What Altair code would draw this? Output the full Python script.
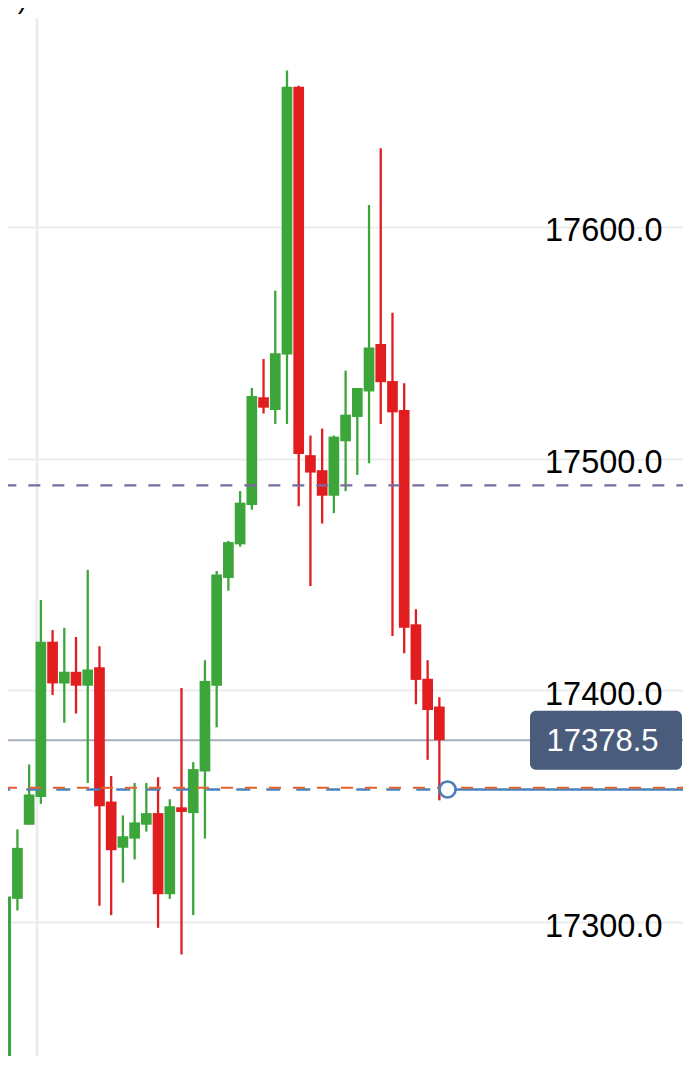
import altair as alt
import pandas as pd

# ---- data ----
idx = list(range(38))
opens = [17230, 17310, 17342, 17354, 17421, 17403, 17408, 17402, 17410, 17352,
         17332, 17336, 17342, 17347, 17312, 17349.5, 17347, 17365, 17402, 17448.5,
         17463, 17480, 17526.5, 17521, 17545, 17660.5, 17501.5, 17495, 17484, 17507.5,
         17518, 17529, 17549.5, 17533.5, 17521, 17428.5, 17405, 17393]
highs = [17317, 17340, 17368, 17439, 17426, 17427, 17423, 17452, 17419, 17363,
         17346, 17360, 17360, 17362.5, 17353, 17401, 17369, 17413, 17451.5, 17464.5,
         17486, 17530.5, 17543, 17572.5, 17667.5, 17661, 17510, 17513, 17510, 17538,
         17530.5, 17609.5, 17634, 17563, 17532.5, 17435, 17413, 17397]
lows = [17226, 17305, 17342, 17351, 17398, 17386, 17390, 17360, 17307, 17303,
        17317, 17327, 17339, 17297.5, 17310, 17286, 17303, 17336, 17384, 17443,
        17462, 17478, 17519.5, 17515, 17515, 17479.5, 17445, 17472, 17476.5, 17486,
        17493, 17498, 17515, 17423.5, 17416, 17394, 17370, 17352.5]
closes = [17311, 17332, 17355, 17421, 17403, 17408, 17402, 17409, 17350, 17331,
          17337, 17343, 17347, 17312, 17350, 17347.5, 17366, 17404, 17450, 17464,
          17481, 17527, 17522, 17545.5, 17660.5, 17502, 17494, 17484, 17509.5, 17519,
          17530.5, 17548, 17533, 17520, 17427, 17404.5, 17391.5, 17378.5]

y_ticks = [17300, 17400, 17500, 17600, 17700]
last_price = 17378.5
last_label = "17378.5"
purple_level = 17488.5
orange_level = 17358.0
blue_level = 17357.2
marker_index = 37.7
time_tick_index = 2.67
x_domain = [-0.486, 58.47]
y_domain = [17236.98, 17697.98]

df = pd.DataFrame({"i": idx, "open": opens, "high": highs, "low": lows, "close": closes})
df["dir"] = ["up" if c >= o else "down" for o, c in zip(opens, closes)]

xs = alt.Scale(domain=x_domain, nice=False, zero=False, padding=0)
ys = alt.Scale(domain=y_domain, nice=False, zero=False, padding=0)
color = alt.Color("dir:N", scale=alt.Scale(domain=["up", "down"], range=["#3da63b", "#e11d1f"]), legend=None)
FONT = "Liberation Sans"

yaxis = alt.Axis(orient="right", values=y_ticks, format=".1f", title=None,
                 labelFontSize=32.5, labelColor="#000000", labelFont=FONT,
                 labelAlign="right", labelBaseline="middle", labelPadding=-29,
                 labelOffset=4, labelOverlap=False, labelFlush=False,
                 domain=False, ticks=False, grid=True, gridColor="#ececec", gridWidth=2)


def Y(field):
    return alt.Y(field, scale=ys, axis=yaxis)


def X(field):
    return alt.X(field, scale=xs, axis=None)


# vertical time gridline
vgrid = alt.Chart(pd.DataFrame({"t": [time_tick_index]})).mark_rule(
    color="#ececec", strokeWidth=2.7
).encode(x=X("t:Q"), y=alt.value(18), y2=alt.value(1068))

# gridline / axis carrier layer
gridlayer = alt.Chart(pd.DataFrame({"v": y_ticks})).mark_point(opacity=0).encode(y=Y("v:Q"))

price_line = alt.Chart(pd.DataFrame({"p": [last_price]})).mark_rule(
    color="#a6aebc", strokeWidth=2
).encode(y=Y("p:Q"))

wicks = alt.Chart(df).mark_rule(strokeWidth=2.3).encode(
    x=X("i:Q"), y=Y("low:Q"), y2="high:Q", color=color,
)
bodies = alt.Chart(df).mark_bar(size=10.7).encode(
    x=X("i:Q"), y=Y("open:Q"), y2="close:Q", color=color,
)

purple = alt.Chart(pd.DataFrame({"p": [purple_level]})).mark_rule(
    color="#7a6a9f", strokeWidth=2.3, strokeDash=[12, 12], strokeDashOffset=21.3
).encode(y=Y("p:Q"))

blue_df = pd.DataFrame({"m": [marker_index], "p": [blue_level]})
blue_dash = alt.Chart(blue_df).mark_rule(
    color="#4a81bd", strokeWidth=2.7, strokeDash=[14, 16], strokeDashOffset=12.7
).encode(x=X("m:Q"), x2=alt.value(0), y=Y("p:Q"))
blue_solid = alt.Chart(blue_df).mark_rule(color="#4a81bd", strokeWidth=2.7).encode(
    x=X("m:Q"), x2=alt.value(691), y=Y("p:Q")
)

orange = alt.Chart(pd.DataFrame({"p": [orange_level]})).mark_rule(
    color="#e2622c", strokeWidth=2, strokeDash=[12, 12], strokeDashOffset=22
).encode(y=Y("p:Q"))

marker = alt.Chart(blue_df).mark_point(
    shape="circle", filled=True, fill="#ffffff", stroke="#4a81bd", strokeWidth=2.7,
    size=256, opacity=1
).encode(x=X("m:Q"), y=Y("p:Q"))

lab_df = pd.DataFrame({"p": [last_price], "t": [last_label]})
box = alt.Chart(lab_df).mark_rect(color="#4a5c7c", cornerRadius=6, height=59).encode(
    x=alt.value(530), x2=alt.value(682), y=Y("p:Q")
)
box_text = alt.Chart(lab_df).mark_text(
    align="left", baseline="middle", fontSize=31, font=FONT, color="#ffffff", dy=2
).encode(x=alt.value(546.5), y=Y("p:Q"), text="t:N")

corner = alt.Chart(pd.DataFrame({"t": ["(-)"]})).mark_text(
    align="left", baseline="alphabetic", fontSize=28, font=FONT, color="#000000"
).encode(x=alt.value(-1), y=alt.value(8), text="t:N")

chart = alt.layer(
    gridlayer, vgrid, price_line, wicks, bodies, purple, blue_dash, blue_solid,
    orange, marker, box, box_text, corner
).properties(
    width=691, height=1068,
    autosize=alt.AutoSizeParams(type="none"),
    padding={"left": -8, "top": -8, "right": -8, "bottom": -12},
    background="#ffffff",
).configure_view(stroke=None)

chart.save("out.html", embed_options={"renderer": "svg", "actions": False})
